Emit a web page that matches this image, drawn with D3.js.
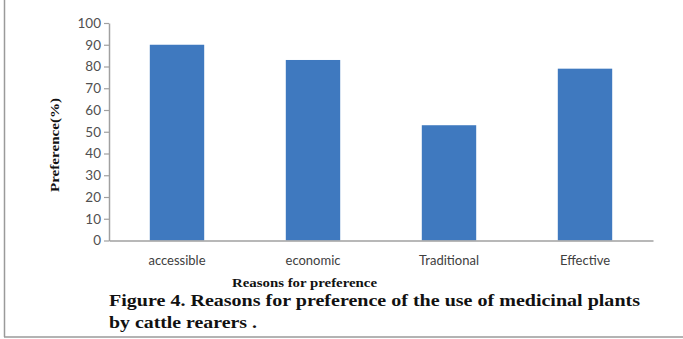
<!DOCTYPE html>
<html>
<head>
<meta charset="utf-8">
<script src="https://cdn.jsdelivr.net/npm/d3@7"></script>
<style>
  body { margin: 0; background: #fff; }
  svg { display: block; }
</style>
</head>
<body>
<svg id="chart" width="683" height="339"></svg>
<script>
(function() {
    const categories = ["accessible", "economic", "Traditional", "Effective"];
    const preference = [90, 83, 53, 79];
    const yTicks = [0, 10, 20, 30, 40, 50, 60, 70, 80, 90, 100];
    const captionLines = [
        "Figure 4. Reasons for preference of the use of medicinal plants",
        "by cattle rearers ."
    ];

    const svg = d3.select("#chart");
    const left = 109, right = 653, top = 23, bottom = 240.5;
    const serif = "'Liberation Serif', 'Times New Roman', serif";
    const sans = "Lato, 'Open Sans', sans-serif";

    const x = d3.scaleBand()
        .domain(categories)
        .range([left, right])
        .paddingInner(0.6)
        .paddingOuter(0.3);

    const y = d3.scaleLinear()
        .domain([0, 100])
        .range([bottom, top]);

    // frame lines of the figure box
    svg.append("line")
        .attr("x1", 4.5).attr("x2", 4.5)
        .attr("y1", 0).attr("y2", 337)
        .attr("stroke", "#9a9a9a").attr("stroke-width", 1.5);
    svg.append("line")
        .attr("x1", 4).attr("x2", 683)
        .attr("y1", 337).attr("y2", 337)
        .attr("stroke", "#9a9a9a").attr("stroke-width", 1.5);

    // bars
    svg.append("g")
        .selectAll("rect")
        .data(categories)
        .join("rect")
        .attr("x", d => x(d))
        .attr("width", x.bandwidth())
        .attr("y", (d, i) => y(preference[i]))
        .attr("height", (d, i) => y(0) - y(preference[i]))
        .attr("fill", "#3f79bf");

    // y axis
    const yAxis = svg.append("g")
        .attr("transform", `translate(${left},0)`)
        .call(d3.axisLeft(y).tickValues(yTicks).tickSize(5).tickSizeOuter(0));
    yAxis.select(".domain").attr("stroke", "#a0a0a0").attr("stroke-width", 1.5);
    yAxis.selectAll(".tick line").attr("stroke", "#a0a0a0").attr("stroke-width", 1.2);
    yAxis.selectAll(".tick text")
        .attr("x", -8)
        .attr("fill", "#505050")
        .attr("font-family", sans)
        .attr("font-size", "13.5px");

    // x axis
    const xAxis = svg.append("g")
        .attr("transform", `translate(0,${bottom})`)
        .call(d3.axisBottom(x).tickSize(0).tickSizeOuter(0));
    xAxis.select(".domain").attr("stroke", "#a0a0a0").attr("stroke-width", 1.5);
    xAxis.selectAll(".tick text")
        .attr("y", 15)
        .attr("fill", "#404040")
        .attr("font-family", sans)
        .attr("font-size", "13px");

    // axis titles
    svg.append("text")
        .attr("transform", "translate(59,145) rotate(-90)")
        .attr("text-anchor", "middle")
        .attr("font-family", serif)
        .attr("font-weight", "bold")
        .attr("font-size", "13.5px")
        .attr("textLength", 94)
        .attr("lengthAdjust", "spacingAndGlyphs")
        .attr("fill", "#111")
        .text("Preference(%)");

    svg.append("text")
        .attr("x", 232)
        .attr("y", 287)
        .attr("font-family", serif)
        .attr("font-weight", "bold")
        .attr("font-size", "12px")
        .attr("textLength", 145)
        .attr("lengthAdjust", "spacingAndGlyphs")
        .attr("fill", "#111")
        .text("Reasons for preference");

    // caption
    svg.append("g")
        .selectAll("text")
        .data(captionLines)
        .join("text")
        .attr("x", 109)
        .attr("y", (d, i) => 306 + i * 21.5)
        .attr("font-family", serif)
        .attr("font-weight", "bold")
        .attr("font-size", "17.5px")
        .attr("textLength", (d, i) => i === 0 ? 531 : 148)
        .attr("lengthAdjust", "spacingAndGlyphs")
        .attr("fill", "#111")
        .text(d => d);
})();
</script>
</body>
</html>
